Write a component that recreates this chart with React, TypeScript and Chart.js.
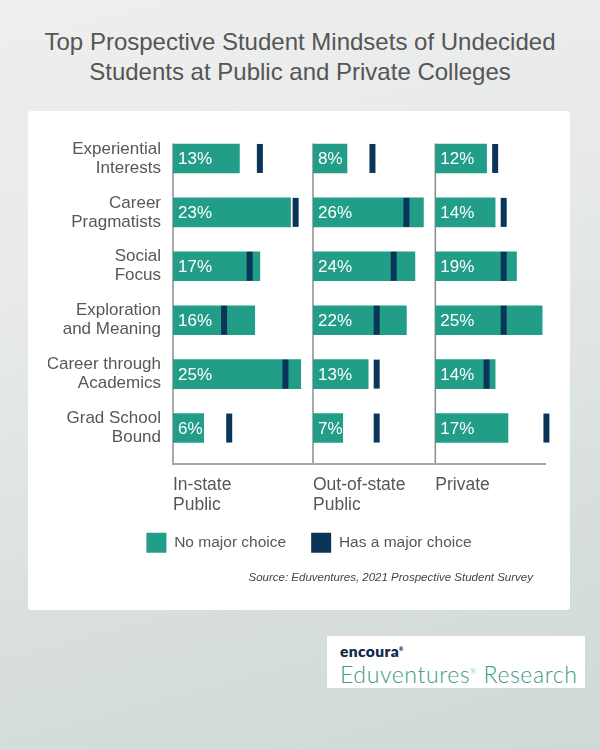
import React, { useEffect, useRef } from 'react';
import { Chart, registerables } from 'chart.js';

Chart.register(...registerables);

const CATEGORIES = [
  ['Experiential', 'Interests'],
  ['Career', 'Pragmatists'],
  ['Social', 'Focus'],
  ['Exploration', 'and Meaning'],
  ['Career through', 'Academics'],
  ['Grad School', 'Bound'],
];
const PANEL_LABELS = [['In-state', 'Public'], ['Out-of-state', 'Public'], ['Private', '']];
const SERIES_LABELS = ['No major choice', 'Has a major choice'];

const NO_MAJOR_INSTATE = [13, 23, 17, 16, 25, 6];
const HAS_MAJOR_INSTATE = [17, 24, 15, 10, 22, 11];
const NO_MAJOR_OUTSTATE = [8, 26, 24, 22, 13, 7];
const HAS_MAJOR_OUTSTATE = [14, 22, 19, 15, 15, 15];
const NO_MAJOR_PRIVATE = [12, 14, 19, 25, 14, 17];
const HAS_MAJOR_PRIVATE = [14, 16, 16, 16, 12, 26];

const PANEL_MAX = [27.4, 28.8, 25.9];
const PANEL_WEIGHT = [140, 122.3, 110.7];

const GREEN = '#229d88';
const NAVY = '#0a3558';
const TEXT = '#575757';
const FONT = '"Liberation Sans", Arial, Helvetica, sans-serif';

const decorPlugin = {
  id: 'decor',
  beforeDatasetsDraw(chart: any) {
    const { ctx, chartArea } = chart;
    const ids = ['x1', 'x2', 'x3'];
    const lineY = chartArea.bottom + 9;
    ctx.save();
    ctx.strokeStyle = '#8c8c8c';
    ctx.lineWidth = 1.5;
    ids.forEach((id) => {
      const s = chart.scales[id];
      ctx.beginPath();
      ctx.moveTo(s.left, chartArea.top + 12);
      ctx.lineTo(s.left, lineY);
      ctx.stroke();
    });
    ctx.strokeStyle = '#a8a8a8';
    ctx.lineWidth = 2;
    ctx.beginPath();
    ctx.moveTo(chart.scales.x1.left - 1, lineY);
    ctx.lineTo(chart.scales.x3.right, lineY);
    ctx.stroke();
    ctx.restore();
  },
  afterDatasetsDraw(chart: any) {
    const { ctx } = chart;
    ctx.save();
    ctx.fillStyle = '#ffffff';
    ctx.font = `17px ${FONT}`;
    ctx.textAlign = 'left';
    ctx.textBaseline = 'middle';
    chart.data.datasets.forEach((ds: any, di: number) => {
      if (ds.type !== 'bar') return;
      const meta = chart.getDatasetMeta(di);
      const xs = chart.scales[ds.xAxisID];
      meta.data.forEach((el: any, i: number) => {
        ctx.fillText(`${ds.data[i]}%`, xs.left + 5, el.y + 1);
      });
    });
    ctx.restore();
  },
};

export default function App() {
  const canvasRef = useRef<HTMLCanvasElement>(null);

  useEffect(() => {
    const noMajor = [NO_MAJOR_INSTATE, NO_MAJOR_OUTSTATE, NO_MAJOR_PRIVATE];
    const hasMajor = [HAS_MAJOR_INSTATE, HAS_MAJOR_OUTSTATE, HAS_MAJOR_PRIVATE];
    const ids = ['x1', 'x2', 'x3'];
    const datasets: any[] = [];
    ids.forEach((id, p) => {
      datasets.push({
        type: 'bar',
        label: SERIES_LABELS[0],
        data: noMajor[p],
        xAxisID: id,
        yAxisID: 'y',
        backgroundColor: GREEN,
        borderWidth: 0,
        barThickness: 29,
        grouped: false,
        order: 2,
      });
    });
    ids.forEach((id, p) => {
      datasets.push({
        type: 'scatter',
        label: SERIES_LABELS[1],
        data: hasMajor[p].map((v, i) => ({ x: v, y: i })),
        xAxisID: id,
        yAxisID: 'y',
        showLine: false,
        pointStyle: 'line',
        pointRotation: 90,
        pointRadius: 14.5,
        pointHoverRadius: 14.5,
        pointBorderWidth: 6,
        pointBorderColor: NAVY,
        pointBackgroundColor: NAVY,
        clip: false,
        order: 1,
      });
    });

    const xScale = (p: number) => ({
      type: 'linear',
      axis: 'x',
      position: 'bottom',
      stack: 'panels',
      stackWeight: PANEL_WEIGHT[p],
      min: 0,
      max: PANEL_MAX[p],
      grid: { display: false, drawTicks: false },
      border: { display: false },
      ticks: { display: false },
      title: {
        display: true,
        text: PANEL_LABELS[p],
        align: 'start',
        color: TEXT,
        font: { family: FONT, size: 17.5, lineHeight: 1.15 },
        padding: { top: 20, bottom: -7.5 },
      },
    });

    const chart = new Chart(canvasRef.current as HTMLCanvasElement, {
      type: 'bar',
      data: { labels: CATEGORIES as any, datasets },
      options: {
        animation: false,
        responsive: false,
        indexAxis: 'y',
        events: [],
        layout: { padding: { left: 20, right: 0, top: 20, bottom: 47.25 } },
        scales: {
          x1: xScale(0),
          x2: xScale(1),
          x3: xScale(2),
          y: {
            type: 'category',
            position: 'left',
            grid: { display: false, drawTicks: false },
            border: { display: false },
            ticks: {
              color: TEXT,
              font: { family: FONT, size: 17, lineHeight: 1.12 },
              padding: 12,
              autoSkip: false,
            },
            afterFit: (s: any) => {
              s.width = 125;
              s.paddingTop = 0;
              s.paddingBottom = 0;
            },
          },
          yr: {
            type: 'linear',
            axis: 'y',
            position: 'right',
            display: true,
            grid: { display: false, drawTicks: false },
            border: { display: false },
            ticks: { display: false },
            afterFit: (s: any) => {
              s.width = 24;
              s.paddingTop = 0;
              s.paddingBottom = 0;
            },
          },
        } as any,
        plugins: {
          tooltip: { enabled: false },
          legend: {
            position: 'bottom',
            align: 'center',
            labels: {
              boxWidth: 20,
              boxHeight: 20,
              padding: 25,
              color: TEXT,
              font: { family: FONT, size: 15.5 },
              generateLabels: () => [
                { text: SERIES_LABELS[0], fillStyle: GREEN, strokeStyle: GREEN, fontColor: TEXT, lineWidth: 0, hidden: false, datasetIndex: 0 },
                { text: SERIES_LABELS[1], fillStyle: NAVY, strokeStyle: NAVY, fontColor: TEXT, lineWidth: 0, hidden: false, datasetIndex: 3 },
              ],
            },
          },
        },
      } as any,
      plugins: [decorPlugin],
    });
    return () => chart.destroy();
  }, []);

  return (
    <div
      style={{
        position: 'fixed',
        left: 0,
        top: 0,
        width: 600,
        height: 750,
        overflow: 'hidden',
        background: 'linear-gradient(165deg, #eeeeee 0%, #e8eaea 35%, #d9dfdf 70%, #d0d8d8 100%)',
        fontFamily: FONT,
      }}
    >
      <div
        style={{
          position: 'absolute',
          top: 27,
          left: 0,
          width: 600,
          textAlign: 'center',
          fontSize: 24,
          lineHeight: '30px',
          color: '#555555',
        }}
      >
        Top Prospective Student Mindsets of Undecided
        <br />
        Students at Public and Private Colleges
      </div>
      <div
        style={{
          position: 'absolute',
          left: 28,
          top: 111,
          width: 542,
          height: 499,
          background: '#ffffff',
          borderRadius: 3,
        }}
      >
        <canvas ref={canvasRef} width={542} height={499} style={{ display: 'block' }} />
        <div
          style={{
            position: 'absolute',
            right: 37,
            top: 460,
            fontSize: 11.5,
            fontStyle: 'italic',
            color: '#444444',
            whiteSpace: 'nowrap',
          }}
        >
          Source: Eduventures, 2021 Prospective Student Survey
        </div>
      </div>
      <div
        style={{
          position: 'absolute',
          left: 327,
          top: 636,
          width: 258,
          height: 52,
          background: '#ffffff',
        }}
      >
        <div
          style={{
            position: 'absolute',
            left: 13,
            top: 6,
            fontFamily: 'Lato, "Open Sans", sans-serif',
            fontWeight: 800,
            fontSize: 15.5,
            letterSpacing: 0.4,
            color: '#13294b',
            lineHeight: '15px',
          }}
        >
          encoura<sup style={{ fontSize: 5 }}>®</sup>
        </div>
        <div
          style={{
            position: 'absolute',
            left: 13,
            top: 22,
            fontFamily: 'Lato, "Open Sans", sans-serif',
            fontWeight: 300,
            fontSize: 23,
            letterSpacing: 0.6,
            lineHeight: '26px',
            color: '#3a9a85',
            whiteSpace: 'nowrap',
          }}
        >
          Eduventures<sup style={{ fontSize: 7 }}>®</sup> Research
        </div>
      </div>
    </div>
  );
}
